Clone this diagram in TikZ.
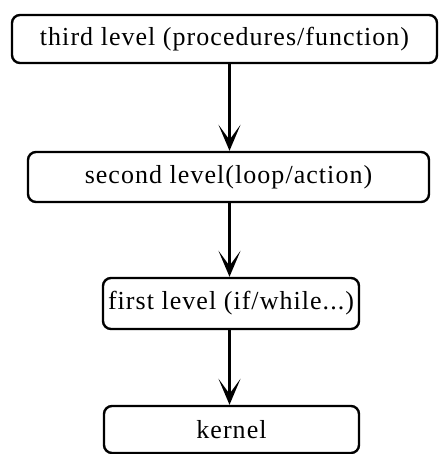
\documentclass[tikz,border=0pt]{standalone}
\usepackage{fontspec}
\setmainfont{Liberation Serif}
\usetikzlibrary{arrows.meta}
\begin{document}
\begin{tikzpicture}[x=1pt,y=-1pt,
  box/.style={draw, line width=2.4pt, rounded corners=8pt, inner sep=0pt,
    font=\fontsize{26}{30}\selectfont\addfontfeature{LetterSpace=4}},
  arr/.style={line width=2.4pt, -{Stealth[length=26pt,width=22pt,inset=15pt]}}]
\useasboundingbox (0,0) rectangle (439,454);
\node[box, minimum width=425pt, minimum height=48pt] (b1) at (224.5,39) {third level (procedures/function)};
\node[box, minimum width=401pt, minimum height=50pt] (b2) at (228.5,177) {second level(loop/action)};
\node[box, minimum width=256pt, minimum height=51pt] (b3) at (231,303.5) {first level (if/while...)};
\node[box, minimum width=255pt, minimum height=47pt] (b4) at (231.5,429.5) {kernel};
\coordinate (ax) at (229.5,0);
\draw[arr] (ax |- b1.south) -- (ax |- b2.north);
\draw[arr] (ax |- b2.south) -- (ax |- b3.north);
\draw[arr] (ax |- b3.south) -- (ax |- b4.north);
\end{tikzpicture}
\end{document}
